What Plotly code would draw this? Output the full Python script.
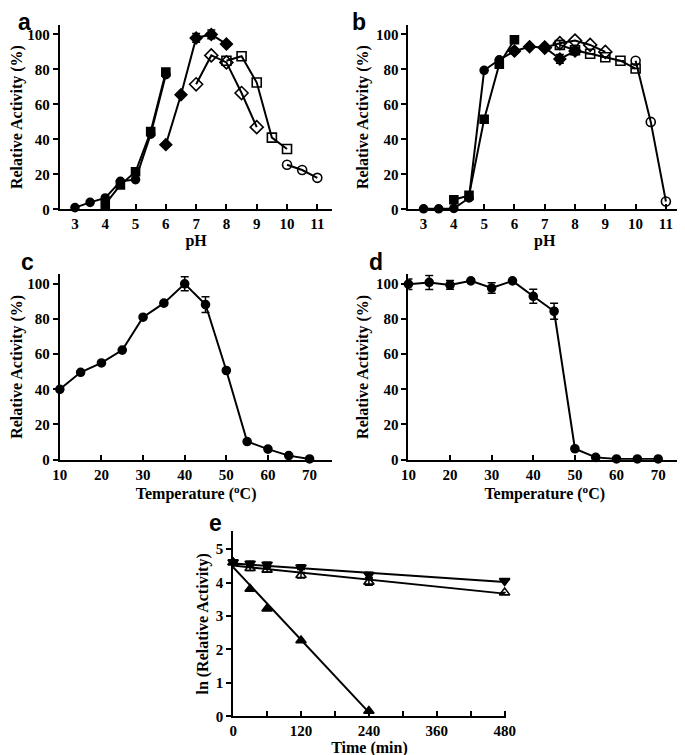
import plotly.graph_objects as go

# ---- panel a: pH optimum ----
a_ph_cit = [3, 3.5, 4, 4.5, 5, 5.5, 6]
a_cit = [1, 4, 6.5, 16, 17, 43, 77]
a_ph_ace = [4, 4.5, 5, 5.5, 6]
a_ace = [3, 14, 21.5, 44.5, 78.5]
a_ph_pho = [6, 6.5, 7, 7.5, 8]
a_pho = [37, 65.5, 98, 100, 94.5]
a_pho_err = [0, 0, 2.5, 2.5, 0]
a_ph_tris = [7, 7.5, 8, 8.5, 9]
a_tris = [71.5, 88, 84, 66.5, 47]
a_ph_gly = [8, 8.5, 9, 9.5, 10]
a_gly = [85, 87.5, 72.5, 41, 34.5]
a_ph_car = [10, 10.5, 11]
a_car = [25.5, 22.5, 18]

# ---- panel b: pH stability ----
b_ph_cit = [3, 3.5, 4, 4.5, 5, 5.5, 6]
b_cit = [0.3, 0.3, 0.5, 6.5, 79.5, 85.5, 90.5]
b_ph_ace = [4, 4.5, 5, 5.5, 6]
b_ace = [5.5, 8, 51.5, 83, 97]
b_ph_pho = [6, 6.5, 7, 7.5, 8]
b_pho = [90.5, 93, 92.5, 86, 90.5]
b_pho_err = [0, 0, 0, 2.5, 2]
b_ph_tris = [7, 7.5, 8, 8.5, 9]
b_tris = [92.5, 95, 96.5, 94, 90]
b_ph_gly = [7.5, 8, 8.5, 9, 9.5, 10]
b_gly = [94, 91, 89, 87, 85, 80.5]
b_gly_err = [2.5, 0, 0, 0, 0, 0]
b_ph_car = [10, 10.5, 11]
b_car = [85, 50, 4.5]

# ---- panels c, d: temperature ----
temps = [10, 15, 20, 25, 30, 35, 40, 45, 50, 55, 60, 65, 70]
c_act = [40, 49.7, 55, 62.3, 81, 89, 100, 88.2, 50.7, 10.3, 6, 2.3, 0.4]
c_err = [0, 0, 0, 0, 0, 0, 4, 4.5, 0, 0, 0, 0, 0]
d_act = [99.8, 100.8, 99.4, 101.7, 97.6, 101.7, 92.9, 84.4, 6.2, 1.3, 0.4, 0.4, 0.4]
d_err = [3, 4, 2.5, 0, 3, 0, 4, 4.5, 0, 0, 0, 0, 0]

# ---- panel e: inactivation kinetics ----
e_time = [0, 30, 60, 120, 240, 480]
e_down = [4.61, 4.57, 4.54, 4.46, 4.23, 4.05]
e_down_err = [0.07, 0.07, 0.07, 0.07, 0.08, 0]
e_open = [4.6, 4.43, 4.38, 4.22, 4.02, 3.7]
e_open_err = [0.07, 0.07, 0.07, 0.08, 0.1, 0]
e_up_time = [0, 30, 60, 120, 240]
e_up = [4.6, 3.81, 3.22, 2.27, 0.16]
fit_t = [0, 480]
fit_down = [4.57, 4.02]
fit_open = [4.51, 3.67]
fit_up_t = [0, 240]
fit_up = [4.46, 0.12]

W, H = 685, 755
BOLD = dict(family="Liberation Serif", size=15, color="black", weight="bold")
fig = go.Figure()


def px_x(p):
    return p / W


def px_y(p):
    return 1 - p / H


def series(xa, ya, x, y, symbol, size=8, err=None, lw=2):
    tr = go.Scatter(x=x, y=y, mode="lines+markers", xaxis=xa, yaxis=ya,
                    cliponaxis=False, showlegend=False,
                    line=dict(color="black", width=lw),
                    marker=dict(symbol=symbol, size=size, color="black",
                                line=dict(color="black", width=1.6)))
    if err is not None:
        tr.error_y = dict(type="data", array=err, visible=True, color="black",
                          thickness=1.5, width=4)
    fig.add_trace(tr)


def axes(n, xdom, ydom, xr, yr, xtitle, ytitle, xticks, yticks, xstand, ystand,
         minor=None):
    sfx = "" if n == 1 else str(n)
    common = dict(showline=True, linewidth=2, linecolor="black", showgrid=False,
                  zeroline=False, tickwidth=2, tickcolor="black", ticklen=5,
                  tickfont=BOLD, mirror=False)
    xa = dict(common, domain=[px_x(xdom[0]), px_x(xdom[1])], range=xr,
              anchor="y" + sfx, ticks="inside", tickvals=xticks,
              title=dict(text=xtitle, font=dict(BOLD, size=16), standoff=xstand))
    if minor:
        xa["minor"] = dict(tickvals=minor, ticks="inside", ticklen=5,
                           tickwidth=2, tickcolor="black")
    ya = dict(common, domain=[px_y(ydom[1]), px_y(ydom[0])], range=yr,
              anchor="x" + sfx, ticks="outside", tickvals=yticks,
              title=dict(text=ytitle, font=dict(BOLD, size=16), standoff=ystand))
    fig.update_layout({"xaxis" + sfx: xa, "yaxis" + sfx: ya})


# panel a
series("x", "y", a_ph_cit, a_cit, "circle")
series("x", "y", a_ph_ace, a_ace, "square")
series("x", "y", a_ph_pho, a_pho, "diamond", 9, a_pho_err)
series("x", "y", a_ph_tris, a_tris, "diamond-open", 10)
series("x", "y", a_ph_gly, a_gly, "square-open", 9)
series("x", "y", a_ph_car, a_car, "circle-open", 9)

# panel b
series("x2", "y2", b_ph_cit, b_cit, "circle")
series("x2", "y2", b_ph_ace, b_ace, "square")
series("x2", "y2", b_ph_pho, b_pho, "diamond", 9, b_pho_err)
series("x2", "y2", b_ph_tris, b_tris, "diamond-open", 10)
series("x2", "y2", b_ph_gly, b_gly, "square-open", 9, b_gly_err)
series("x2", "y2", b_ph_car, b_car, "circle-open", 9)

# panels c, d
series("x3", "y3", temps, c_act, "circle", 8, c_err)
series("x4", "y4", temps, d_act, "circle", 8, d_err)

# panel e: fitted lines then data points
for fx, fy in ((fit_t, fit_down), (fit_t, fit_open), (fit_up_t, fit_up)):
    fig.add_trace(go.Scatter(x=fx, y=fy, mode="lines", xaxis="x5", yaxis="y5",
                             showlegend=False, line=dict(color="black", width=2)))
for x, y, sym, err in ((e_time, e_down, "triangle-down", e_down_err),
                       (e_time, e_open, "triangle-up-open", e_open_err),
                       (e_up_time, e_up, "triangle-up", None)):
    tr = go.Scatter(x=x, y=y, mode="markers", xaxis="x5", yaxis="y5",
                    cliponaxis=False, showlegend=False,
                    marker=dict(symbol=sym, size=9, color="black",
                                line=dict(color="black", width=1.6)))
    if err is not None:
        tr.error_y = dict(type="data", array=err, visible=True, color="black",
                          thickness=1.5, width=4)
    fig.add_trace(tr)

pct = [0, 20, 40, 60, 80, 100]
ph_ticks = [3, 4, 5, 6, 7, 8, 9, 10, 11]
t_ticks = [10, 20, 30, 40, 50, 60, 70]
axes(1, (45, 325), (17, 203.5), [2.5, 11.5], [0, 105.5], "pH",
     "Relative Activity (%)", ph_ticks, pct, 0, 3)
axes(2, (403, 683), (17, 203.5), [2.5, 11.5], [0, 105.5], "pH",
     "Relative Activity (%)", ph_ticks, pct, 0, 3)
axes(3, (45, 325), (269, 456.5), [10, 75.5], [0, 105.5],
     "Temperature (<sup>o</sup>C)", "Relative Activity (%)", t_ticks, pct, 2, 3)
axes(4, (403, 683), (269, 456.5), [10, 75.5], [0, 105.5],
     "Temperature (<sup>o</sup>C)", "Relative Activity (%)", t_ticks, pct, 2, 3)
axes(5, (223, 503), (529, 716), [0, 482], [0, 5.53], "Time (min)",
     "ln (Relative Activity)", [0, 120, 240, 360, 480], [0, 1, 2, 3, 4, 5], 1, 3,
     minor=[60, 180, 300, 420])

# panel letters: (text, x px, y px, vertical anchor)
letters = [("a", 9, 0, "top"), ("b", 352, 0, "top"), ("c", 12, 257, "middle"),
           ("d", 370, 257, "middle"), ("e", 205, 521, "middle")]
for txt, x, y, va in letters:
    fig.add_annotation(text=txt, x=px_x(x), y=px_y(y), xref="paper", yref="paper",
                       showarrow=False, xanchor="center", yanchor=va, height=24,
                       font=dict(family="Liberation Sans", size=23, color="black",
                                 weight="bold"))

fig.update_layout(width=W, height=H, margin=dict(l=0, r=0, t=0, b=0),
                  paper_bgcolor="white", plot_bgcolor="white")
fig.write_html("out.html")
